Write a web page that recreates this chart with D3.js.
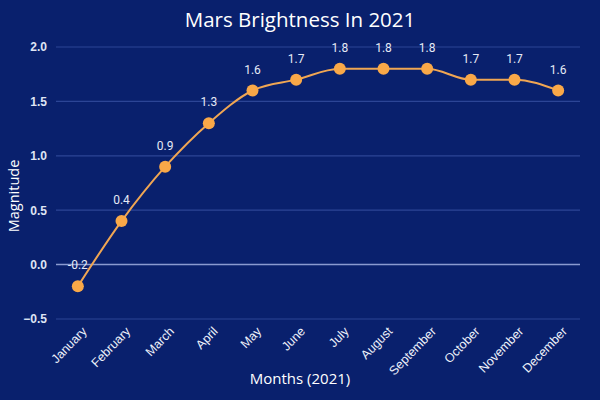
<!DOCTYPE html>
<html><head><meta charset="utf-8">
<script src="https://cdn.jsdelivr.net/npm/d3@7"></script>
<style>body{margin:0;background:#0a1f6c;}svg{display:block;}</style>
</head><body>
<svg id="c" width="600" height="400"></svg>
<script>
const months = ["January","February","March","April","May","June","July","August","September","October","November","December"];
const magnitude = [-0.2,0.4,0.9,1.3,1.6,1.7,1.8,1.8,1.8,1.7,1.7,1.6];
const yTicks = [-0.5,0.0,0.5,1.0,1.5,2.0];

const svg = d3.select("#c");
const W=600,H=400, m={l:56,r:20,t:47,b:81};
svg.append("rect").attr("width",W).attr("height",H).attr("fill","#09206d");
const x = d3.scalePoint().domain(months).range([m.l,W-m.r]).padding(0.5);
const y = d3.scaleLinear().domain([-0.5,2.0]).range([H-m.b,m.t]);

// grid
svg.append("g").selectAll("line").data(yTicks).join("line")
  .attr("x1",m.l).attr("x2",W-m.r)
  .attr("y1",d=>y(d)).attr("y2",d=>y(d))
  .attr("stroke",d=>d===0?"#8a9ad0":"#2c4596").attr("stroke-width",d=>d===0?1.5:1.2);

// y axis labels
const ya = svg.append("g").attr("transform",`translate(${m.l-6},0)`)
  .call(d3.axisLeft(y).tickValues(yTicks).tickFormat(d3.format(".1f")).tickSize(0));
ya.select(".domain").remove();
ya.selectAll("text").attr("fill","#dfe4f4").attr("font-family","Arial, Liberation Sans, sans-serif")
  .attr("font-size",12).attr("font-weight","bold");

// x axis labels
const xa = svg.append("g").attr("transform",`translate(0,${H-m.b})`)
  .call(d3.axisBottom(x).tickSize(0));
xa.select(".domain").remove();
xa.selectAll("text").attr("fill","#eef1fa").attr("font-family","Arial, Liberation Sans, sans-serif")
  .attr("font-size",12.5).attr("text-anchor","end")
  .attr("x",0).attr("y",0).attr("dy","0.35em")
  .attr("transform","translate(6,10) rotate(-46)");

// line
svg.append("path").datum(magnitude)
  .attr("fill","none").attr("stroke","#f0a653").attr("stroke-width",2)
  .attr("d",d3.line().x((d,i)=>x(months[i])).y(d=>y(d)).curve(d3.curveMonotoneX));

svg.append("g").selectAll("circle").data(magnitude).join("circle")
  .attr("cx",(d,i)=>x(months[i])).attr("cy",d=>y(d)).attr("r",6)
  .attr("fill","#f9a848");

svg.append("g").selectAll("text").data(magnitude).join("text")
  .attr("x",(d,i)=>x(months[i])).attr("y",d=>y(d)-17)
  .attr("text-anchor","middle").attr("fill","#e6eaf6")
  .attr("font-family","Roboto, Arial, sans-serif").attr("font-size",12)
  .text(d=>d.toFixed(1));

// titles
svg.append("text").attr("x",W/2).attr("y",27).attr("text-anchor","middle")
  .attr("fill","#ffffff").attr("font-family","Open Sans, sans-serif").attr("font-size",20.5)
  .text("Mars Brightness In 2021");
svg.append("text").attr("x",300).attr("y",384).attr("text-anchor","middle")
  .attr("fill","#ffffff").attr("font-family","Open Sans, sans-serif").attr("font-size",15)
  .text("Months (2021)");
svg.append("text").attr("transform","translate(19,196) rotate(-90)").attr("text-anchor","middle")
  .attr("fill","#ffffff").attr("font-family","Open Sans, sans-serif").attr("font-size",14.5)
  .text("Magnitude");
</script>
</body></html>
